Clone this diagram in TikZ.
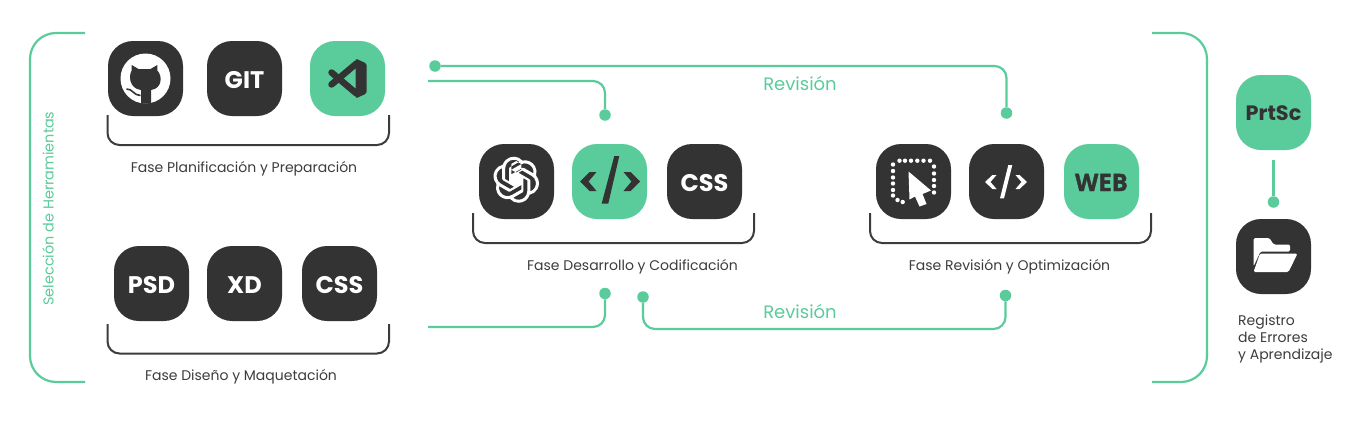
\documentclass[tikz,border=0pt]{standalone}
\usepackage{fontspec}
\usetikzlibrary{svg.path}
\setmainfont{Poppins}
\newfontfamily\webfont[BoldFeatures={FakeBold=1.5}]{Open Sans}
\definecolor{mint}{HTML}{5ACB9B}
\definecolor{coal}{HTML}{333333}
\definecolor{labelgray}{HTML}{3C3C3C}
\tikzset{
    tile/.style = {draw=none, fill=coal, rounded corners=25pt, minimum size=75pt, inner sep=0pt, text=white, text height=19pt, text depth=0pt, font=\fontsize{24}{24}\selectfont\bfseries},
    minttile/.style = {tile, fill=mint, text=coal},
    dot/.style = {shape=circle, fill=mint, minimum size=11.5pt, inner sep=0pt},
    flow/.style = {draw=mint, line width=2.2pt, rounded corners=12pt},
    outer/.style = {draw=mint, line width=2.2pt, rounded corners=26pt},
    bracket/.style = {draw=labelgray, line width=2pt, rounded corners=12pt},
    phase/.style = {text=labelgray, font=\fontsize{14}{17}\selectfont, inner sep=0pt},
    revision/.style = {text=mint, font=\fontsize{18}{20}\selectfont, inner sep=0pt}
}
\begin{document}
\begin{tikzpicture}[x=1pt, y=-1pt]
    \useasboundingbox (0,0) rectangle (1366,426);

    % tool tiles
    \node[tile] (github) at (145.5,78.5) {};
    \node[tile] (git) at (244.5,78.5) {GIT};
    \node[minttile] (vscode) at (347.5,78.5) {};

    \node[tile] (psd) at (151.5,283.5) {PSD};
    \node[tile] (xd) at (244.5,283.5) {XD};
    \node[tile] (cssa) at (339.5,283.5) {CSS};

    \node[tile] (gpt) at (516.5,181.5) {};
    \node[minttile] (codea) at (609.5,181.5) {};
    \node[tile] (cssb) at (704.5,181.5) {CSS};

    \node[tile] (cursor) at (913.5,181.5) {};
    \node[tile] (codeb) at (1006.5,181.5) {};
    \node[minttile, font=\fontsize{24}{24}\webfont\bfseries] (web) at (1101.5,181.5) {WEB};

    \node[minttile, text height=16pt, font=\fontsize{20.8}{21}\selectfont\bfseries] (prtsc) at (1273.5,112.5) {PrtSc};
    \node[tile] (folder) at (1273.5,256.5) {};

    % github
    \begin{scope}[shift={(github)}]
        \fill[white] (0,0) circle (25);
        \fill[coal] (-13.8,-13.5) -- (-13.8,-8) .. controls (-17,-3) and (-16.5,10) .. (-4.5,11.5)
            -- (-4.5,25) -- (5.5,25) -- (5.5,11.5) .. controls (17,10) and (17,-3) .. (11.8,-8)
            -- (11.8,-13.5) -- (5,-9.5) -- (-7,-9.5) -- cycle;
        \draw[coal, line width=1.6pt] (-19,10.5) .. controls (-13,10) and (-12,17) .. (-5,17);
    \end{scope}

    % vscode
    \begin{scope}[shift={(vscode)}]
        \draw[coal, line width=6.5pt, line cap=round] (-16,-6) -- (9,15);
        \draw[coal, line width=6.5pt, line cap=round] (-16,6) -- (9,-15);
        \fill[coal, rounded corners=1.5pt] (8,-20) -- (19,-15) -- (19,15) -- (8,20) -- cycle;
        \fill[mint] (7.5,-9) -- (7.5,9) -- (-3,0) -- cycle;
    \end{scope}

    % chatgpt
    \begin{scope}[shift={(gpt)}, xshift=-23.3pt, yshift=24.8pt, scale=1.92, yscale=-1]
        \fill[white, even odd rule] svg "M22.2819 9.8211a5.9847 5.9847 0 0 0-.5157-4.9108 6.0462 6.0462 0 0 0-6.5098-2.9A6.0651 6.0651 0 0 0 4.9807 4.1818a5.9847 5.9847 0 0 0-3.9977 2.9 6.0462 6.0462 0 0 0 .7427 7.0966 5.98 5.98 0 0 0 .511 4.9107 6.051 6.051 0 0 0 6.5146 2.9001A5.9847 5.9847 0 0 0 13.2599 24a6.0557 6.0557 0 0 0 5.7718-4.2058 5.9894 5.9894 0 0 0 3.9977-2.9001 6.0557 6.0557 0 0 0-.7475-7.0729zm-9.022 12.6081a4.4755 4.4755 0 0 1-2.8764-1.0408l.1419-.0804 4.7783-2.7582a.7948.7948 0 0 0 .3927-.6813v-6.7369l2.02 1.1686a.071.071 0 0 1 .038.052v5.5826a4.504 4.504 0 0 1-4.4945 4.4944zm-9.6607-4.1254a4.4708 4.4708 0 0 1-.5346-3.0137l.142.0852 4.783 2.7582a.7712.7712 0 0 0 .7806 0l5.8428-3.3685v2.3324a.0804.0804 0 0 1-.0332.0615L9.74 19.9502a4.4992 4.4992 0 0 1-6.1408-1.6464zM2.3408 7.8956a4.485 4.485 0 0 1 2.3655-1.9728V11.6a.7664.7664 0 0 0 .3879.6765l5.8144 3.3543-2.0201 1.1685a.0757.0757 0 0 1-.071 0l-4.8303-2.7865A4.504 4.504 0 0 1 2.3408 7.872zm16.5963 3.8558L13.1038 8.364 15.1192 7.2a.0757.0757 0 0 1 .071 0l4.8303 2.7913a4.4944 4.4944 0 0 1-.6765 8.1042v-5.6772a.79.79 0 0 0-.407-.667zm2.0107-3.0231l-.142-.0852-4.7735-2.7818a.7759.7759 0 0 0-.7854 0L9.409 9.2297V6.8974a.0662.0662 0 0 1 .0284-.0615l4.8303-2.7866a4.4992 4.4992 0 0 1 6.6802 4.66zM8.3065 12.863l-2.02-1.1638a.0804.0804 0 0 1-.038-.0567V6.0742a4.4992 4.4992 0 0 1 7.3757-3.4537l-.142.0805L8.704 5.459a.7948.7948 0 0 0-.3927.6813zm1.0976-2.3654l2.602-1.4998 2.6069 1.4998v2.9994l-2.5974 1.4997-2.6067-1.4997Z";
    \end{scope}

    % big code sign
    \begin{scope}[shift={(codea)}]
        \fill[coal] (4.8,-25.5) -- (9.8,-25.5) -- (-1.2,22) -- (-7.8,22) -- cycle;
        \fill[coal] (-29.5,0) -- (-20,-9.5) -- (-13,-9.5) -- (-21,0) -- (-13,9.5) -- (-20,9.5) -- cycle;
        \fill[coal] (30.5,0) -- (21,-9.5) -- (14,-9.5) -- (22,0) -- (14,9.5) -- (21,9.5) -- cycle;
    \end{scope}

    % dotted square and arrow
    \begin{scope}[shift={(cursor)}]
        \foreach \x in {-14,-8.5,-2.5,3.8,10,16.5}
            \fill[white] (\x,-20.8) circle (2.2);
        \foreach \y in {-15,-8,-1.5,4.5,11}
            \fill[white] (20.5,\y) circle (2.2);
        \foreach \y in {-17,-10.5,-4,2,8.5,14}
            \fill[white] (-20.5,\y) circle (2.2);
        \fill[white] (-16,18.5) circle (2.2);
        \fill[white] (-10.8,20.5) circle (2.2);
        \fill[white] (-5,-10) -- (17.5,9) -- (9,12.5) -- (13,22.5) -- (6,25) -- (1.5,15) -- (-4,18) -- cycle;
    \end{scope}

    % small code sign
    \begin{scope}[shift={(codeb)}]
        \fill[white] (1.8,-16.5) -- (5.8,-16.5) -- (-2.5,16.8) -- (-6.5,16.8) -- cycle;
        \fill[white] (-21.5,0.5) -- (-14,-6.5) -- (-10,-6.5) -- (-16,0.5) -- (-10,7.5) -- (-14,7.5) -- cycle;
        \fill[white] (20.5,0.5) -- (13,-6.5) -- (9,-6.5) -- (15,0.5) -- (9,7.5) -- (13,7.5) -- cycle;
    \end{scope}

    % folder
    \begin{scope}[shift={(folder)}]
        \fill[white, rounded corners=1.5pt] (-20,-18.5) -- (-4,-18.5) -- (0,-12) -- (16.5,-12) -- (16.5,-5)
            -- (-13,-5) -- (-20,10) -- cycle;
        \fill[white, rounded corners=1.5pt] (-13.5,-3) -- (24,-3) -- (15,15.5) -- (-20,15.5) -- cycle;
    \end{scope}

    % brackets under each group
    \draw[bracket] (107.5,115) -- (107.5,145) -- (389,145) -- (389,115);
    \draw[bracket] (107.5,324) -- (107.5,353.5) -- (389,353.5) -- (389,324);
    \draw[bracket] (473,213) -- (473,243) -- (754,243) -- (754,213);
    \draw[bracket] (870,213) -- (870,243) -- (1151,243) -- (1151,213);

    % outer brackets
    \draw[outer] (85,33) -- (30,33) -- (30,382) -- (85,382);
    \draw[outer] (1152,33) -- (1207,33) -- (1207,382) -- (1152,382);

    \node[phase] (planlabel) at (244,169) {Fase Planificación y Preparación};
    \node[phase] (designlabel) at (241,377) {Fase Diseño y Maquetación};
    \node[phase] (devlabel) at (632.5,267) {Fase Desarrollo y Codificación};
    \node[phase] (revlabel) at (1009.5,267) {Fase Revisión y Optimización};
    \node[phase, text=mint, rotate=90, font=\fontsize{14.4}{17}\selectfont] (toolslabel) at (48,208.5) {Selección de Herramientas};
    \node[phase, align=left, anchor=north west] (loglabel) at (1238,315) {Registro\\de Errores\\y Aprendizaje};

    \node[revision] (revtop) at (800,83.3) {Revisión};
    \node[revision] (revbottom) at (800,311.3) {Revisión};

    % connectors
    \node[dot] (dotrevstart) at (435,66) {};
    \node[dot] (dotrevend) at (1006.5,113) {};
    \node[dot] (dotcode) at (605,115) {};
    \node[dot] (dotdesign) at (605,293.5) {};
    \node[dot] (dotback) at (643,297) {};
    \node[dot] (dotrevback) at (1005.5,295.5) {};
    \node[dot] (dotlog) at (1273.5,202) {};

    \coordinate (planend) at (428,81);
    \coordinate (designend) at (428,327);
    \coordinate (prtscend) at (1273.5,160);

    \draw[flow] (dotrevstart) -| (dotrevend);
    \draw[flow] (planend) -| (dotcode);
    \draw[flow] (designend) -| (dotdesign);
    \draw[flow] (dotback) |- (800,329) -| (dotrevback);
    \draw[flow] (prtscend) -- (dotlog);
\end{tikzpicture}
\end{document}
